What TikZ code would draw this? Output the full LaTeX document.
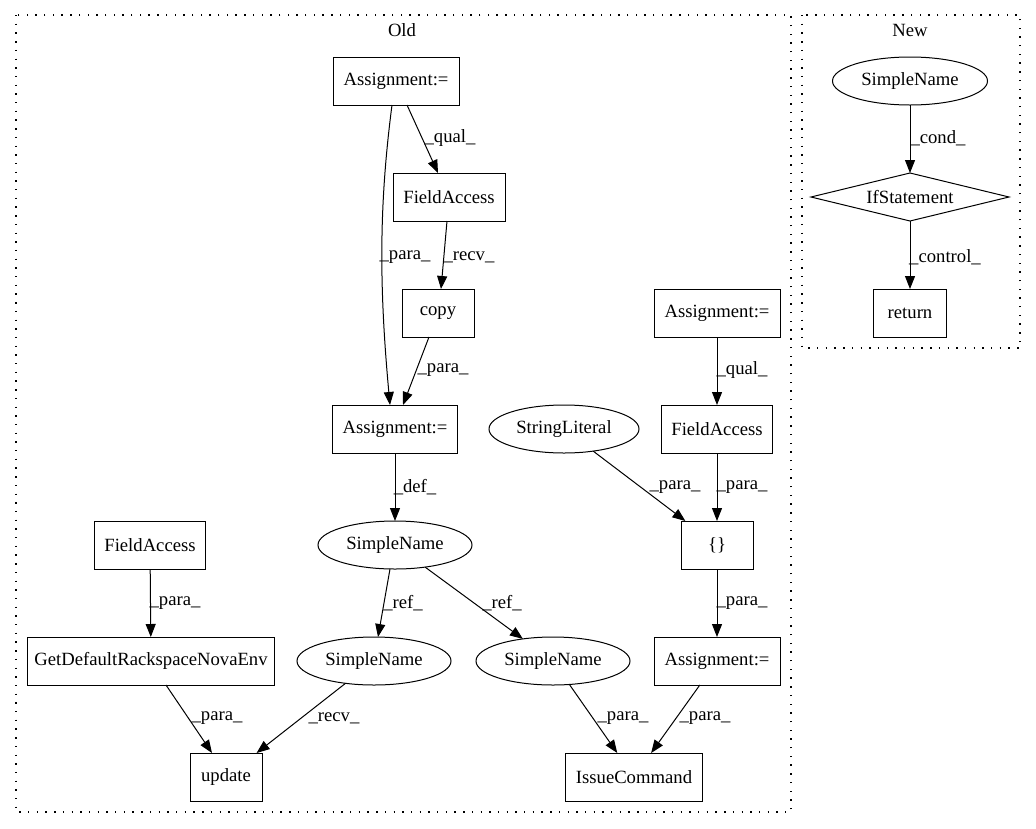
\documentclass[tikz,border=0pt]{standalone}
\usepackage{fontspec}
\setmainfont{Liberation Serif}
\usetikzlibrary{arrows.meta,shapes.geometric}
\begin{document}
\begin{tikzpicture}[x=1pt,y=-1pt,
  every node/.style={font=\fontsize{18.67}{22}\selectfont, inner sep=0pt, outer sep=0pt},
  box/.style={draw, rectangle, line width=1pt, minimum height=48pt},
  oval/.style={draw, ellipse, line width=1pt, minimum height=48pt},
  cond/.style={draw, diamond, aspect=4.125, line width=1pt, minimum width=198pt, minimum height=48pt},
  conn/.style={-{Triangle[length=13pt,width=10pt]}, line width=1pt},
  cluster/.style={draw, line width=1.1pt, dash pattern=on 1.4pt off 7.3pt},
  lbl/.style={}
]
\fill[white] (0,0) rectangle (1036,828);
\useasboundingbox (0,0) rectangle (1036,828);

% clusters
\draw[cluster] (16,15) rectangle (791,812);
\node (oldlbl) at (402,30) {Old};
\draw[cluster] (802,15) rectangle (1020,348);
\node (newlbl) at (910,30) {New};

% Old nodes
\node[box, minimum width=126pt] (A1) at (396,81) {Assignment:=};
\node[box, minimum width=112pt] (FA1) at (449,197) {FieldAccess};
\node[box, minimum width=72pt] (copy) at (438,313) {copy};
\node[box, minimum width=125pt] (A2) at (395,429) {Assignment:=};
\node[oval, minimum width=154pt] (SN1) at (395,545) {SimpleName};
\node[box, minimum width=111pt] (FA2) at (150,545) {FieldAccess};
\node[box, minimum width=247pt] (GD) at (151,661) {GetDefaultRackspaceNovaEnv};
\node[oval, minimum width=154pt] (SN2) at (374,661) {SimpleName};
\node[oval, minimum width=154pt] (SN3) at (553,661) {SimpleName};
\node[box, minimum width=72pt] (upd) at (226,777) {update};
\node[box, minimum width=137pt] (IC) at (634,777) {IssueCommand};
\node[box, minimum width=126pt] (A3) at (717,313) {Assignment:=};
\node[box, minimum width=111pt] (FA3) at (717,429) {FieldAccess};
\node[oval, minimum width=150pt] (SL) at (564,429) {StringLiteral};
\node[box, minimum width=72pt] (br) at (717,545) {\{\}};
\node[box, minimum width=126pt] (A4) at (717,661) {Assignment:=};

% New nodes
\node[oval, minimum width=155pt] (NSN) at (910,81) {SimpleName};
\node[cond] (IF) at (910,197) {IfStatement};
\node[box, minimum width=73pt] (ret) at (910,313) {return};

% Old edges
\draw[conn] ([xshift=11pt]A1.south) -- ([xshift=-11pt]FA1.north);
\node[lbl] (l1) at (450,138) {\_qual\_};
\draw[conn] ([xshift=-4pt]A1.south) .. controls +(-13,100) and +(-11,-120) .. ([xshift=-5pt]A2.north);
\node[lbl] (l2) at (405,257) {\_para\_};
\draw[conn] ([xshift=-2pt]FA1.south) -- ([xshift=3pt]copy.north);
\node[lbl] (l3) at (469,257) {\_recv\_};
\draw[conn] ([xshift=-9pt]copy.south) -- ([xshift=8pt]A2.north);
\node[lbl] (l4) at (443,370) {\_para\_};
\draw[conn] (A2) -- (SN1);
\node[lbl] (l5) at (415,487) {\_def\_};
\draw[conn] ([xshift=-5pt]SN1.south) -- ([xshift=4pt]SN2.north);
\node[lbl] (l6) at (403,603) {\_ref\_};
\draw[conn] (SN1) -- (SN3);
\node[lbl] (l7) at (502,603) {\_ref\_};
\draw[conn] (FA2) -- (GD);
\node[lbl] (l8) at (175,603) {\_para\_};
\draw[conn] ([xshift=15pt]GD.south) -- ([xshift=-14pt]upd.north);
\node[lbl] (l9) at (217,718) {\_para\_};
\draw[conn] (SN2) -- (upd);
\node[lbl] (l10) at (334,718) {\_recv\_};
\draw[conn] (A3) -- (FA3);
\node[lbl] (l11) at (742,370) {\_qual\_};
\draw[conn] (SL) -- (br);
\node[lbl] (l12) at (675,487) {\_para\_};
\draw[conn] (FA3) -- (br);
\node[lbl] (l13) at (742,487) {\_para\_};
\draw[conn] (br) -- (A4);
\node[lbl] (l14) at (742,603) {\_para\_};
\draw[conn] (SN3) -- (IC);
\node[lbl] (l15) at (623,718) {\_para\_};
\draw[conn] (A4) -- (IC);
\node[lbl] (l16) at (705,718) {\_para\_};

% New edges
\draw[conn] (NSN) -- (IF);
\node[lbl] (l17) at (938,138) {\_cond\_};
\draw[conn] (IF) -- (ret);
\node[lbl] (l18) at (945,257) {\_control\_};
\end{tikzpicture}
\end{document}
